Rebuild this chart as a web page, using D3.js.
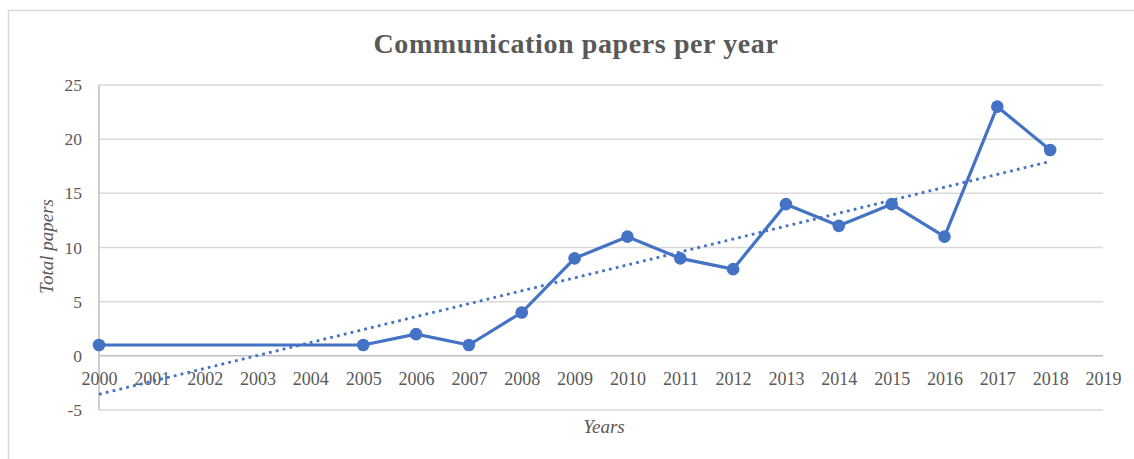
<!DOCTYPE html>
<html>
<head>
<meta charset="utf-8">
<script src="https://cdn.jsdelivr.net/npm/d3@7"></script>
<style>
  body { margin: 0; background: #fff; }
  text { font-family: "Liberation Serif", "Times New Roman", serif; fill: #595959; }
</style>
</head>
<body>
<svg id="chart" width="1134" height="459"></svg>
<script>
// papers per year (2001-2004 have no entries)
const years = [2000, 2005, 2006, 2007, 2008, 2009, 2010, 2011, 2012, 2013, 2014, 2015, 2016, 2017, 2018];
const papers = [1, 1, 2, 1, 4, 9, 11, 9, 8, 14, 12, 14, 11, 23, 19];
const xTicks = d3.range(2000, 2020);
const yTicks = [-5, 0, 5, 10, 15, 20, 25];

const TITLE = 'Communication papers per year';
const BLUE = '#4472c4';

const svg = d3.select('#chart');
const plotL = 99, plotR = 1103, plotT = 85, plotB = 410;

const x = d3.scaleLinear().domain([2000, 2019]).range([plotL, plotR]);
const y = d3.scaleLinear().domain([-5, 25]).range([plotB, plotT]);

// outer frame (only top and left edges are visible in the picture)
svg.append('path')
  .attr('d', 'M8.5,470V10.5H1140')
  .attr('fill', 'none')
  .attr('stroke', '#d9d9d9')
  .attr('stroke-width', 1.5);

svg.append('text')
  .attr('x', 576).attr('y', 53)
  .attr('text-anchor', 'middle')
  .attr('font-size', 28).attr('font-weight', 'bold')
  .attr('letter-spacing', 0.6)
  .text(TITLE);

// horizontal grid
svg.append('g')
  .selectAll('line')
  .data(yTicks)
  .join('line')
    .attr('x1', plotL).attr('x2', plotR)
    .attr('y1', d => y(d)).attr('y2', d => y(d))
    .attr('stroke', d => d === 0 ? '#bfbfbf' : '#d9d9d9')
    .attr('stroke-width', 1.5);

// vertical axis line
svg.append('line')
  .attr('x1', plotL).attr('x2', plotL)
  .attr('y1', plotT).attr('y2', plotB)
  .attr('stroke', '#bfbfbf').attr('stroke-width', 1.5);

const yAxis = svg.append('g')
  .attr('transform', `translate(${plotL - 17},0)`)
  .call(d3.axisLeft(y).tickValues(yTicks).tickFormat(d => String(d)).tickSize(0).tickPadding(0));
yAxis.select('.domain').remove();
yAxis.selectAll('text')
  .attr('font-size', 17.5)
  .attr('fill', '#595959')
  .attr('font-family', '"Liberation Serif", serif');

const xAxis = svg.append('g')
  .attr('transform', `translate(0,${y(0)})`)
  .call(d3.axisBottom(x).tickValues(xTicks).tickFormat(d => String(d)).tickSize(0).tickPadding(16));
xAxis.select('.domain').remove();
xAxis.selectAll('text')
  .attr('font-size', 18)
  .attr('fill', '#595959')
  .attr('font-family', '"Liberation Serif", serif');

// axis titles
svg.append('text')
  .attr('transform', `translate(53,${(plotT + plotB) / 2 - 1}) rotate(-90)`)
  .attr('text-anchor', 'middle')
  .attr('font-size', 19).attr('font-style', 'italic')
  .text('Total papers');

svg.append('text')
  .attr('x', 604).attr('y', 433)
  .attr('text-anchor', 'middle')
  .attr('font-size', 19).attr('font-style', 'italic')
  .text('Years');

// linear trend line (least squares on the data)
const mx = d3.mean(years), my = d3.mean(papers);
const slope = d3.sum(years, (v, i) => (v - mx) * (papers[i] - my)) /
              d3.sum(years, v => (v - mx) ** 2);
const trend = t => my + slope * (t - mx);
const x0 = d3.min(years), x1 = d3.max(years);

svg.append('line')
  .attr('x1', x(x0)).attr('y1', y(trend(x0)))
  .attr('x2', x(x1)).attr('y2', y(trend(x1)))
  .attr('stroke', BLUE)
  .attr('stroke-width', 2.8)
  .attr('stroke-dasharray', '2.8,4.2');

const pts = years.map((v, i) => [v, papers[i]]);

svg.append('path')
  .datum(pts)
  .attr('fill', 'none')
  .attr('stroke', BLUE)
  .attr('stroke-width', 3.2)
  .attr('stroke-linejoin', 'round')
  .attr('d', d3.line().x(d => x(d[0])).y(d => y(d[1])));

svg.append('g')
  .selectAll('circle')
  .data(pts)
  .join('circle')
    .attr('cx', d => x(d[0]))
    .attr('cy', d => y(d[1]))
    .attr('r', 6.3)
    .attr('fill', BLUE);
</script>
</body>
</html>
